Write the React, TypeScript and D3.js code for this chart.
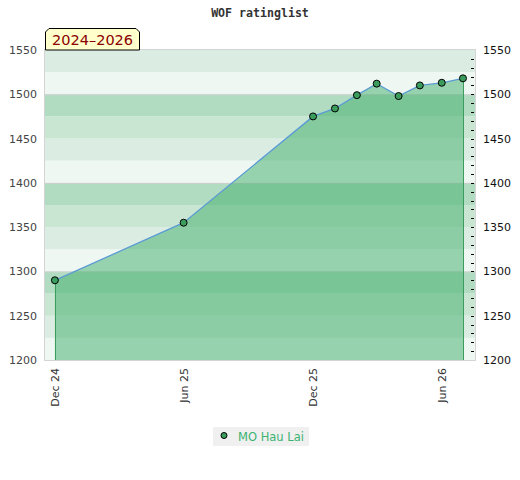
import React, { useEffect, useRef } from 'react';
import * as d3 from 'd3';

// monthly rating snapshots
const dates = ['2024-12-01', '2025-06-01', '2025-12-01', '2026-01-01', '2026-02-01', '2026-03-01', '2026-04-01', '2026-05-01', '2026-06-01', '2026-07-01'];
const ratings = [1290, 1355, 1475, 1484, 1499, 1512, 1498, 1510, 1513, 1518];
const xTickDates = ['2024-12-01', '2025-06-01', '2025-12-01', '2026-06-01'];
const yTicks = [1200, 1250, 1300, 1350, 1400, 1450, 1500, 1550];
const bandColors = ['#b2dcc1', '#c9e6d3', '#dbede2', '#eff7f2'];
const playerName = 'MO Hau Lai';
const periodLabel = '2024–2026';
const chartTitle = 'WOF ratinglist';

interface Point {
  date: Date;
  value: number;
}

const W = 520;
const H = 480;
const margin = { top: 50, right: 45, bottom: 120, left: 45 };

const App: React.FC = () => {
  const svgRef = useRef<SVGSVGElement>(null);

  useEffect(() => {
    if (!svgRef.current) return;
    const root = d3.select(svgRef.current);
    root.selectAll('*').remove();

    const parse = d3.timeParse('%Y-%m-%d');
    const data: Point[] = dates.map((d, i) => ({ date: parse(d) as Date, value: ratings[i] }));

    const innerW = W - margin.left - margin.right;
    const innerH = H - margin.top - margin.bottom;

    const first = data[0].date;
    const last = data[data.length - 1].date;
    const x = d3
      .scaleTime()
      .domain([d3.timeDay.offset(first, -14), d3.timeDay.offset(last, 17)])
      .range([0, innerW]);
    const y = d3.scaleLinear().domain([1200, 1550]).range([innerH, 0]);

    // title
    root
      .append('text')
      .attr('x', W / 2)
      .attr('y', 17)
      .attr('text-anchor', 'middle')
      .attr('font-family', 'DejaVu Sans Mono')
      .attr('font-weight', 'bold')
      .attr('font-size', 11.6)
      .attr('fill', '#333')
      .text(chartTitle);

    const g = root.append('g').attr('transform', `translate(${margin.left},${margin.top})`);

    // background bands every 25 points
    const bands = d3.range(1200, 1550, 25);
    g.selectAll('.band')
      .data(bands)
      .enter()
      .append('rect')
      .attr('x', 0)
      .attr('width', innerW)
      .attr('y', (d: number) => y(d + 25))
      .attr('height', (d: number) => y(d) - y(d + 25))
      .attr('fill', (d: number) => bandColors[3 - ((d / 25) % 4)]);

    // grid lines every 100
    g.selectAll('.grid')
      .data([1300, 1400, 1500])
      .enter()
      .append('line')
      .attr('x1', 0)
      .attr('x2', innerW)
      .attr('y1', (d: number) => y(d) + 0.5)
      .attr('y2', (d: number) => y(d) + 0.5)
      .attr('stroke', '#cfcfcf');

    // area
    const area = d3
      .area<Point>()
      .x((d: Point) => x(d.date))
      .y0(innerH)
      .y1((d: Point) => y(d.value));
    g.append('path').datum(data).attr('fill', 'rgb(64,174,106)').attr('fill-opacity', 0.5).attr('d', area);

    // drop lines at ends
    [data[0], data[data.length - 1]].forEach((p) => {
      g.append('line')
        .attr('x1', Math.round(x(p.date)) + 0.5)
        .attr('x2', Math.round(x(p.date)) + 0.5)
        .attr('y1', y(p.value))
        .attr('y2', innerH)
        .attr('stroke', '#3a9d5d');
    });

    // line
    const line = d3
      .line<Point>()
      .x((d: Point) => x(d.date))
      .y((d: Point) => y(d.value));
    g.append('path').datum(data).attr('fill', 'none').attr('stroke', '#5b9bd5').attr('stroke-width', 1.3).attr('d', line);

    // frame
    g.append('rect')
      .attr('x', -0.5)
      .attr('y', -0.5)
      .attr('width', innerW + 1)
      .attr('height', innerH + 1)
      .attr('fill', 'none')
      .attr('stroke', '#d4d4d4');

    // left axis labels
    g.selectAll('.ylab')
      .data(yTicks)
      .enter()
      .append('text')
      .attr('x', -8)
      .attr('y', (d: number) => y(d) + 4)
      .attr('text-anchor', 'end')
      .attr('font-family', 'DejaVu Sans')
      .attr('font-size', 11)
      .attr('fill', '#444')
      .text((d: number) => d);

    // right axis minor ticks
    const minor = d3.range(1210, 1550, 10);
    g.selectAll('.rtick')
      .data(minor)
      .enter()
      .append('line')
      .attr('x1', innerW - 4)
      .attr('x2', innerW - 1)
      .attr('y1', (d: number) => Math.round(y(d)) + 0.5)
      .attr('y2', (d: number) => Math.round(y(d)) + 0.5)
      .attr('stroke', '#000');

    g.selectAll('.rlab')
      .data(yTicks)
      .enter()
      .append('text')
      .attr('x', innerW + 8)
      .attr('y', (d: number) => y(d) + 4)
      .attr('font-family', 'DejaVu Sans')
      .attr('font-size', 11)
      .attr('fill', '#111')
      .text((d: number) => d);

    // x labels
    const fmt = d3.timeFormat('%b %y');
    g.selectAll('.xlab')
      .data(xTickDates.map((d) => parse(d) as Date))
      .enter()
      .append('text')
      .attr('transform', (d: Date) => `translate(${x(d) + 4},${innerH + 8}) rotate(-90)`)
      .attr('text-anchor', 'end')
      .attr('font-family', 'DejaVu Sans')
      .attr('font-size', 11)
      .attr('fill', '#333')
      .text((d: Date) => fmt(d));

    // dots
    g.selectAll('.dot')
      .data(data)
      .enter()
      .append('circle')
      .attr('cx', (d: Point) => x(d.date))
      .attr('cy', (d: Point) => y(d.value))
      .attr('r', 3.5)
      .attr('fill', '#3a9d5d')
      .attr('stroke', '#000');

    // period label box with chamfered top corners
    const bx = 0;
    const bw = 95;
    const by = -22;
    const c = 4;
    root
      .append('path')
      .attr('transform', `translate(${margin.left},${margin.top})`)
      .attr('d', `M${bx + 0.5},0 L${bx + 0.5},${by + c} L${bx + c},${by + 0.5} L${bx + bw - c},${by + 0.5} L${bx + bw - 0.5},${by + c} L${bx + bw - 0.5},0 Z`)
      .attr('fill', '#ffffcc')
      .attr('stroke', '#000');
    root
      .append('text')
      .attr('x', margin.left + 7)
      .attr('y', margin.top - 5)
      .attr('font-family', 'DejaVu Sans')
      .attr('font-size', 14.5)
      .attr('fill', '#8b0000')
      .text(periodLabel);

    // legend
    const lg = root.append('g').attr('transform', 'translate(213,427)');
    lg.append('rect').attr('width', 96).attr('height', 19).attr('fill', '#f0f0f0');
    lg.append('circle').attr('cx', 11).attr('cy', 8.5).attr('r', 3).attr('fill', '#3a9d5d').attr('stroke', '#000');
    lg.append('text')
      .attr('x', 25)
      .attr('y', 13.5)
      .attr('font-family', 'DejaVu Sans')
      .attr('font-size', 11.5)
      .attr('fill', '#3cb371')
      .text(playerName);
  }, []);

  return (
    <svg
      ref={svgRef}
      width={W}
      height={H}
      style={{ position: 'absolute', left: 0, top: 0, background: '#fff' }}
    />
  );
};

export default App;
